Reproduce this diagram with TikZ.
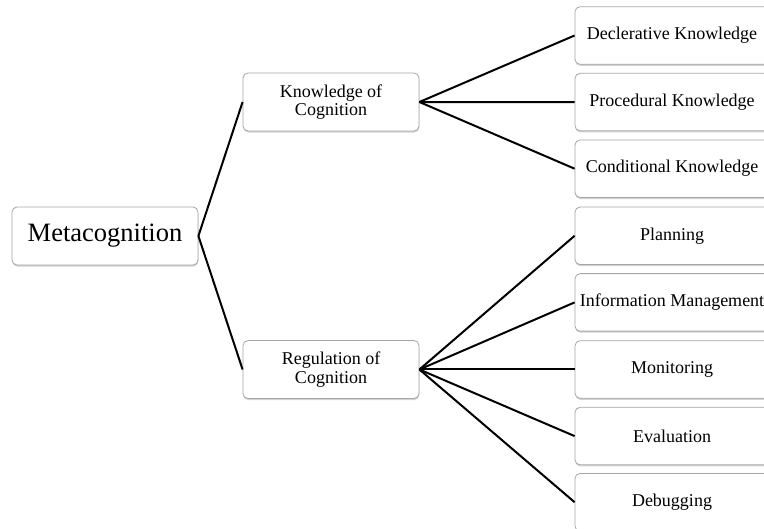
\documentclass[tikz,border=0pt]{standalone}
\usepackage{fontspec}
\setmainfont{Liberation Serif}
\usetikzlibrary{shadows}
\tikzset{
  box/.style={draw=gray!70, line width=0.8pt, rounded corners=5pt, fill=white,
    drop shadow={shadow xshift=0.3pt, shadow yshift=-1.6pt, opacity=0.35, fill=gray},
    align=center, inner xsep=0pt, minimum height=57.5pt,
    font=\fontsize{18}{18.5}\selectfont},
  rootbox/.style={box, minimum width=186pt, minimum height=58pt,
    font=\fontsize{26.5}{28}\selectfont},
  midbox/.style={box, minimum width=176pt, minimum height=58pt},
  leafbox/.style={box, minimum width=194pt},
  link/.style={line width=2pt, black}
}
\begin{document}
\begin{tikzpicture}[x=1pt,y=-1pt]
\clip (0,0) rectangle (764,529);
\fill[white] (0,0) rectangle (764,529);

\node[rootbox] (meta) at (105,236) {Metacognition};
\node[midbox] (know) at (331,102) {Knowledge of\\Cognition};
\node[midbox] (reg) at (331,369.5) {Regulation of\\Cognition};

\node[leafbox] (decl) at (672,35.5) {Declerative Knowledge};
\node[leafbox] (proc) at (672,102.1) {Procedural Knowledge};
\node[leafbox] (cond) at (672,168.7) {Conditional Knowledge};
\node[leafbox] (plan) at (672,235.8) {Planning};
\node[leafbox] (info) at (672,302.4) {Information Management};
\node[leafbox] (moni) at (672,369.5) {Monitoring};
\node[leafbox] (eval) at (672,436.1) {Evaluation};
\node[leafbox] (debu) at (672,502.2) {Debugging};

\draw[link] (meta.east) -- (know.west);
\draw[link] (meta.east) -- (reg.west);
\foreach \t in {decl,proc,cond}
  \draw[link] (know.east) -- (\t.west);
\foreach \t in {plan,info,moni,eval,debu}
  \draw[link] (reg.east) -- (\t.west);
\end{tikzpicture}
\end{document}
